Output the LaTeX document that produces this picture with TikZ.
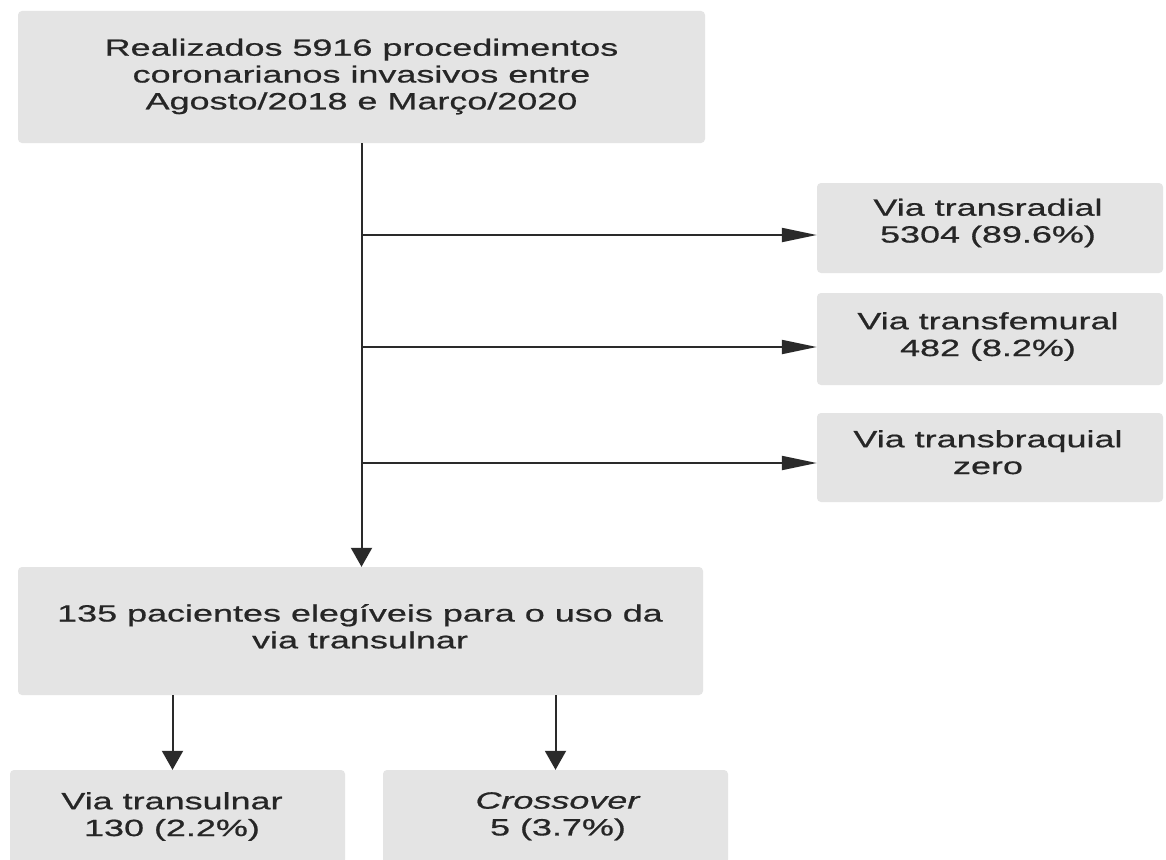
\documentclass[tikz,border=0pt]{standalone}
\usepackage{fontspec}
\setmainfont[FakeStretch=1.53,FakeBold=0.7]{Liberation Sans}
\usetikzlibrary{arrows.meta}
\definecolor{boxgray}{HTML}{E4E4E4}
\definecolor{txtgray}{HTML}{262626}
\definecolor{linegray}{HTML}{2A2A2A}
\newcommand\boxfont{\fontsize{23.5}{26.8}\selectfont}
\begin{document}
\begin{tikzpicture}[x=1pt,y=-1pt,
  box/.style={fill=boxgray, rounded corners=4pt, draw=none, inner sep=0pt},
  txt/.style={text=txtgray, align=center, inner sep=0pt, anchor=north, font=\boxfont},
  conn/.style={draw=linegray, line width=2pt},
  harrow/.style={conn, -{Triangle[length=35pt,width=14pt]}},
  varrow/.style={conn, -{Triangle[length=19pt,width=21pt]}}]
\useasboundingbox (0,0) rectangle (1166,859);
\clip (0,0) rectangle (1166,859);
\fill[white] (0,0) rectangle (1166,859);
% boxes
\node[box, minimum width=687pt, minimum height=132pt] (top) at (361.5,77) {};
\node[box, minimum width=346pt, minimum height=90pt] (r1) at (990,228) {};
\node[box, minimum width=346pt, minimum height=92pt] (r2) at (990,339) {};
\node[box, minimum width=346pt, minimum height=89pt] (r3) at (990,457.5) {};
\node[box, minimum width=685pt, minimum height=128pt] (mid) at (360.5,631) {};
\node[box, minimum width=335pt, minimum height=110pt] (bl) at (177.5,825) {};
\node[box, minimum width=345pt, minimum height=110pt] (br) at (555.5,825) {};
% texts
\node[txt] (ttop) at (361.5,38.5) {Realizados 5916 procedimentos\\coronarianos invasivos entre\\Agosto/2018 e Março/2020};
\node[txt] (tr1) at (988,198.5) {Via transradial\\5304 (89.6\%)};
\node[txt] (tr2) at (988,312) {Via transfemural\\482 (8.2\%)};
\node[txt] (tr3) at (988,430) {Via transbraquial\\zero};
\node[txt] (tmid) at (360,604) {135 pacientes elegíveis para o uso da\\via transulnar};
\node[txt] (tbl) at (172,792) {Via transulnar\\130 (2.2\%)};
\node[txt] (tbr) at (558,792) {\textit{Crossover}\\5 (3.7\%)};
% connectors
\coordinate (j1) at (top.south |- 0,235);
\coordinate (j2) at (top.south |- 0,347);
\coordinate (j3) at (top.south |- 0,463);
\draw[varrow] (top.south) -- (top.south |- mid.north);
\draw[harrow] (j1) -- (j1 -| r1.west);
\draw[harrow] (j2) -- (j2 -| r2.west);
\draw[harrow] (j3) -- (j3 -| r3.west);
\draw[varrow] ([xshift=-5pt]bl.north |- mid.south) -- ([xshift=-5pt]bl.north);
\draw[varrow] (br.north |- mid.south) -- (br.north);
\end{tikzpicture}
\end{document}
